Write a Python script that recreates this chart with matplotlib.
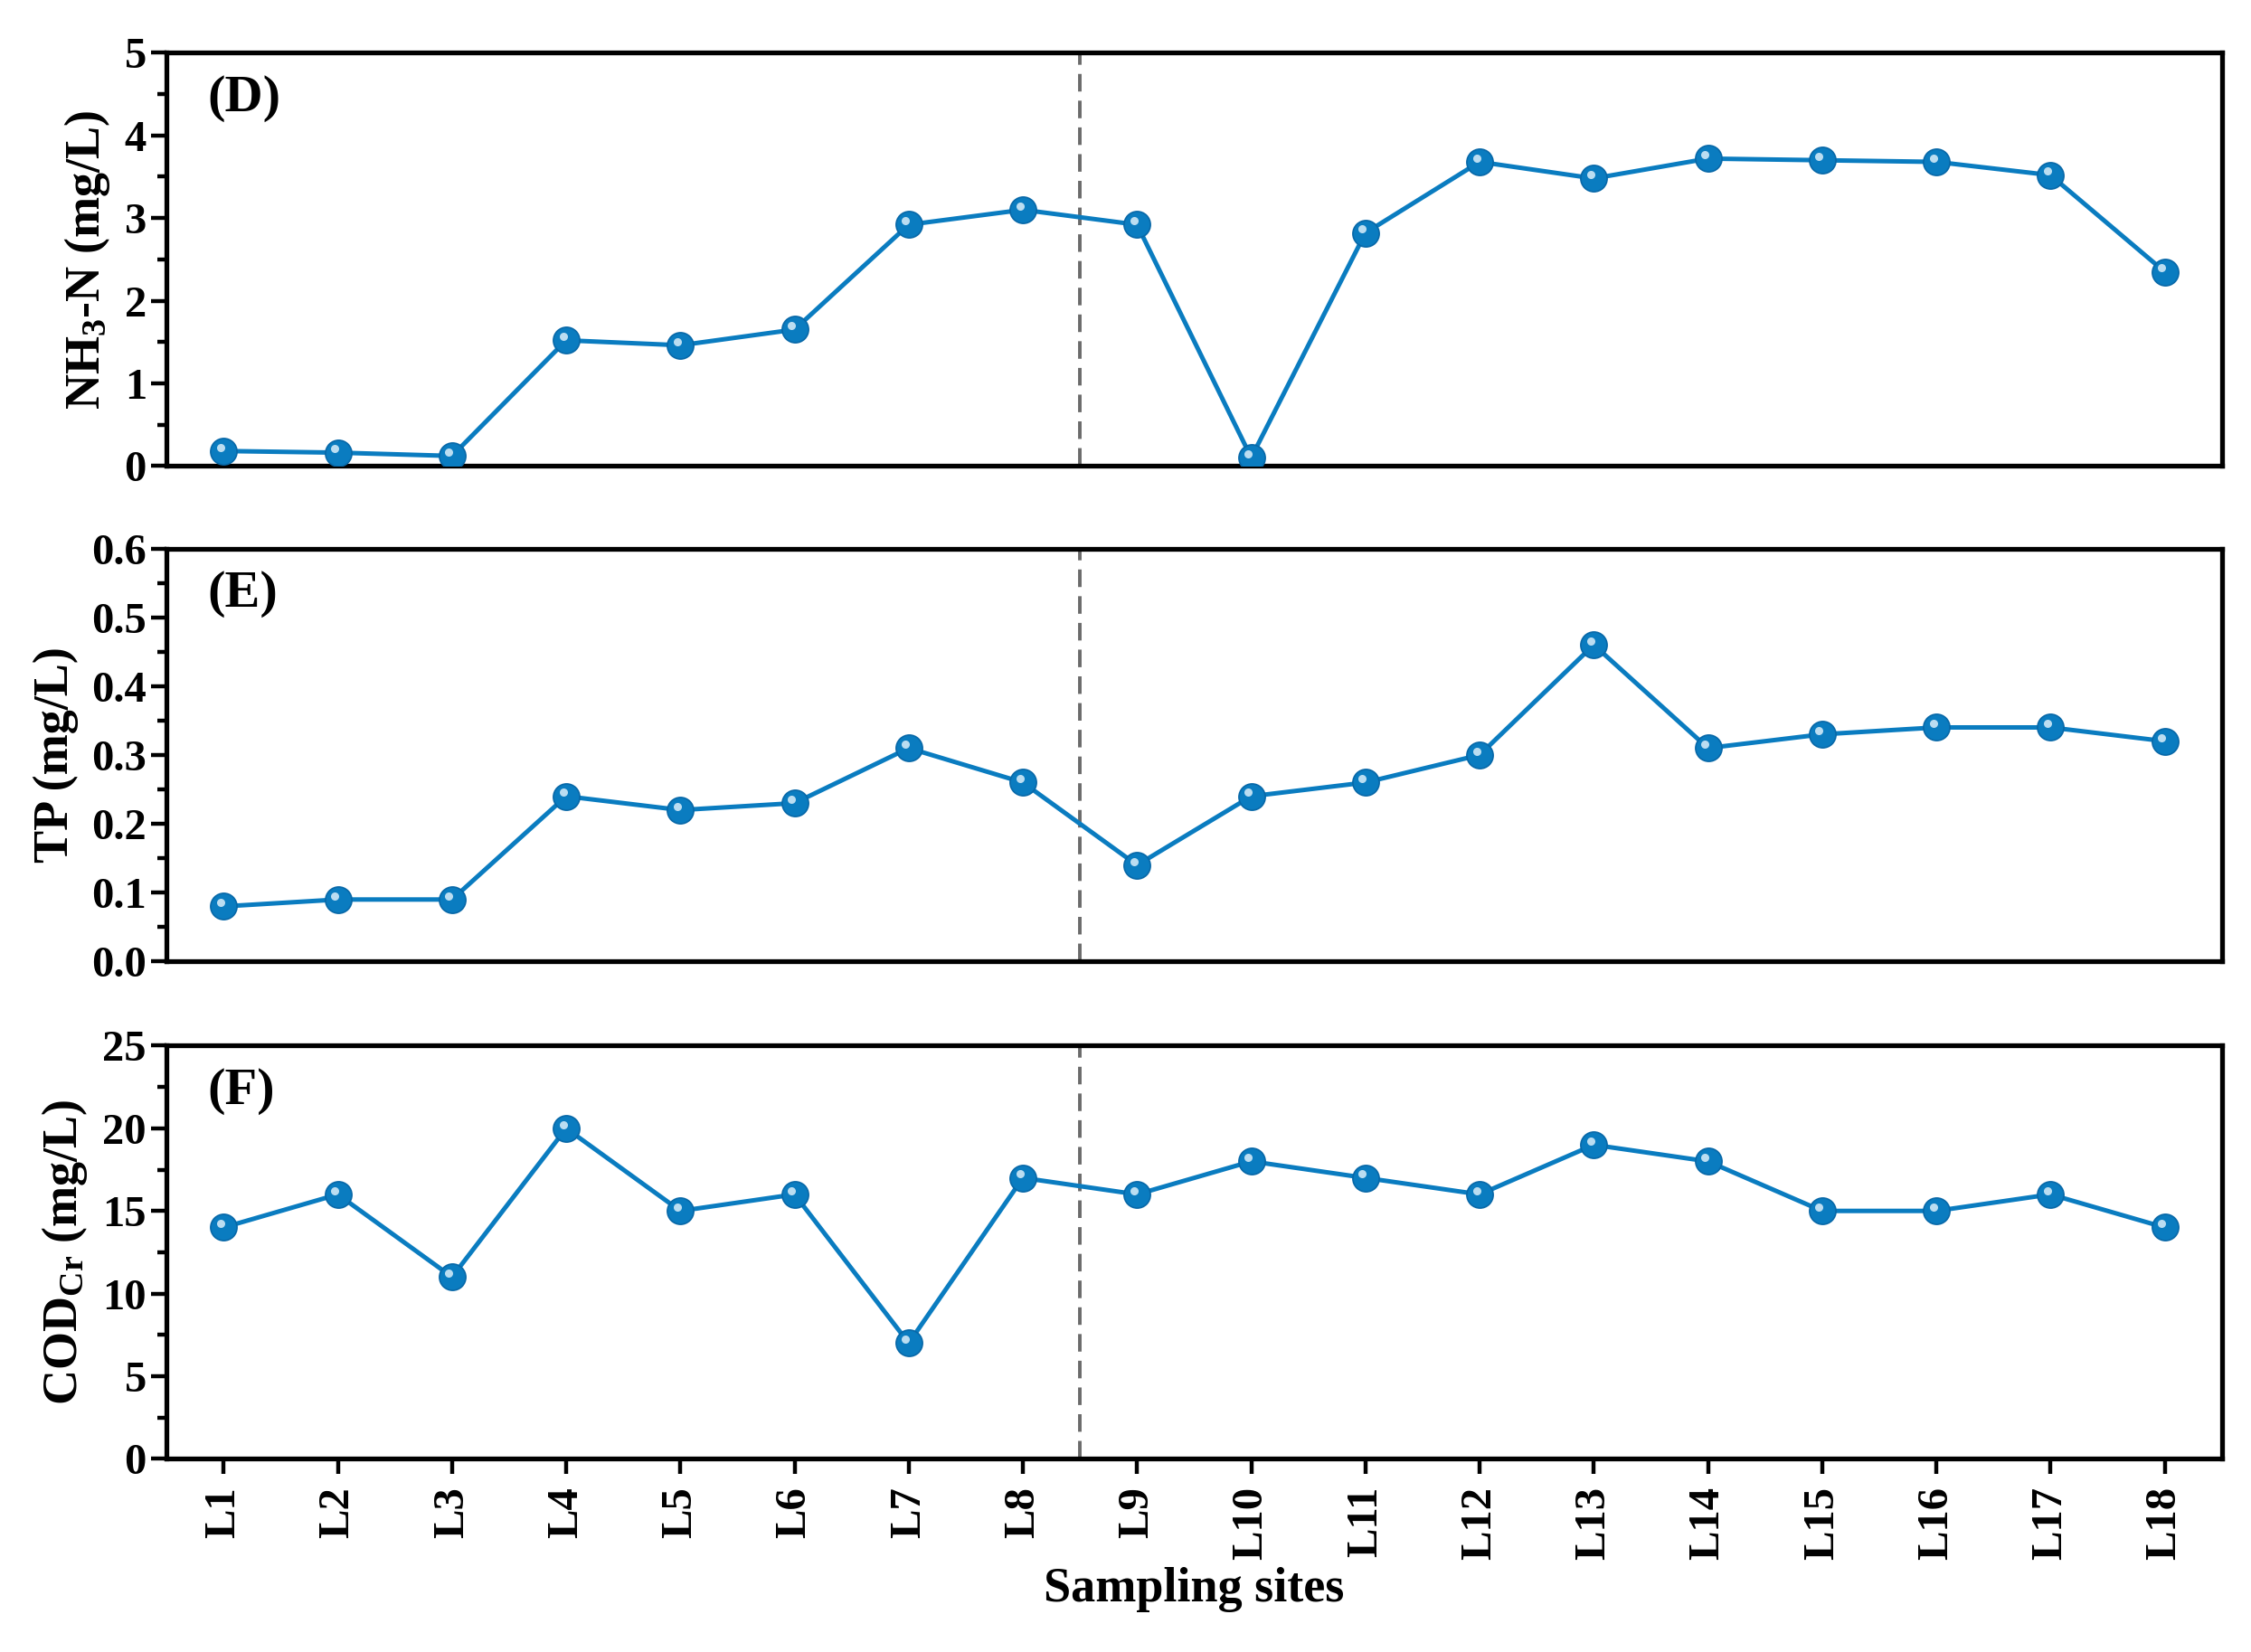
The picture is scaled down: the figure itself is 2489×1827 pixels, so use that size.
import matplotlib
matplotlib.use("Agg")
import matplotlib.pyplot as plt
import matplotlib.transforms as mtransforms
import numpy as np

sites = ["L%d" % i for i in range(1, 19)]
nh3n = [0.18, 0.16, 0.12, 1.52, 1.46, 1.65, 2.92, 3.10, 2.92, 0.10, 2.82, 3.68, 3.48, 3.72, 3.70, 3.68, 3.52, 2.35]
tp = [0.08, 0.09, 0.09, 0.24, 0.22, 0.23, 0.31, 0.26, 0.14, 0.24, 0.26, 0.30, 0.46, 0.31, 0.33, 0.34, 0.34, 0.32]
cod = [14, 16, 11, 20, 15, 16, 7, 17, 16, 18, 17, 16, 19, 18, 15, 15, 16, 14]

panel_tags = ["(D)", "(E)", "(F)"]
ylabels = [r"NH$_{3}$-N (mg/L)", "TP (mg/L)", r"COD$_{\mathrm{Cr}}$ (mg/L)"]
ylims = [(0, 5), (0, 0.6), (0, 25)]
ymajor = [1, 0.1, 5]
yfmt = ["%d", "%.1f", "%d"]
divider_between = 8  # dashed line between L8 and L9

plt.rcParams["font.family"] = ["Liberation Serif", "DejaVu Serif"]
plt.rcParams["font.weight"] = "bold"
plt.rcParams["mathtext.fontset"] = "custom"
plt.rcParams["mathtext.rm"] = "Liberation Serif:bold"
plt.rcParams["mathtext.it"] = "Liberation Serif:bold"
plt.rcParams["mathtext.bf"] = "Liberation Serif:bold"
plt.rcParams["mathtext.default"] = "rm"

fig = plt.figure(figsize=(24.89, 18.27), dpi=100)
left, right = 0.074, 0.987
boxes = [(0.718, 0.968), (0.418, 0.668), (0.117, 0.367)]

x = np.arange(1, len(sites) + 1)
blue = "#0a7cc0"
data = [nh3n, tp, cod]

for i, (vals, (b, t)) in enumerate(zip(data, boxes)):
    ax = fig.add_axes([left, b, right - left, t - b])
    ax.plot(x, vals, color=blue, lw=3.6, zorder=3)
    ax.plot(x, vals, ls="none", marker="o", ms=21, mfc=blue, mec="#0868a8", mew=1.2, zorder=4)
    off = mtransforms.ScaledTranslation(-2.5 / 72, 3.0 / 72, fig.dpi_scale_trans)
    ax.plot(x, vals, ls="none", marker="o", ms=6.5, mfc="#cfe8f7", mec="none", alpha=0.9,
            zorder=5, transform=ax.transData + off)
    ax.axvline(divider_between + 0.5, color="#6b6b6b", lw=2.8, ls=(0, (5, 2.6)), zorder=2)
    ax.set_xlim(0.5, len(sites) + 0.5)
    ax.set_ylim(*ylims[i])
    ax.yaxis.set_major_locator(matplotlib.ticker.MultipleLocator(ymajor[i]))
    ax.yaxis.set_minor_locator(matplotlib.ticker.MultipleLocator(ymajor[i] / 2))
    ax.yaxis.set_major_formatter(matplotlib.ticker.FormatStrFormatter(yfmt[i]))
    for s in ax.spines.values():
        s.set_linewidth(3.8)
    ax.tick_params(axis="y", which="major", direction="out", length=12, width=3.2, labelsize=35, pad=4)
    ax.tick_params(axis="y", which="minor", direction="out", length=7, width=3.2)
    ax.set_ylabel(ylabels[i], fontsize=39, fontweight="bold", labelpad=10)
    ax.text(0.02, 0.89, panel_tags[i], transform=ax.transAxes, fontsize=42,
            fontweight="bold", va="center", ha="left")
    ax.set_xticks(x)
    if i < 2:
        ax.tick_params(axis="x", which="both", bottom=False, labelbottom=False)
    else:
        ax.set_xticklabels(sites, rotation=90, fontsize=35, fontweight="bold")
        ax.tick_params(axis="x", which="major", direction="out", length=12, width=3.2, pad=10)
        ax.set_xlabel("Sampling sites", fontsize=39, fontweight="bold", labelpad=6)
    ax.tick_params(axis="x", which="minor", bottom=False)

fig.savefig("out.png", dpi=100, facecolor="white")
